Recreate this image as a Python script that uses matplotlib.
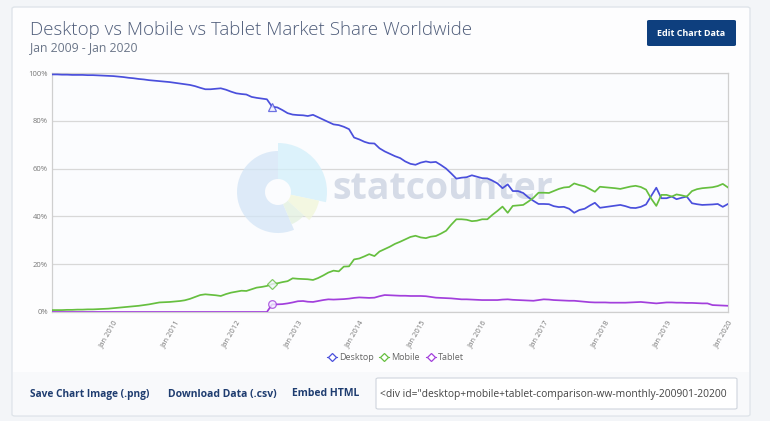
import matplotlib
matplotlib.use("Agg")
import matplotlib.pyplot as plt
import matplotlib.patches as mpatches
import numpy as np
import pandas as pd

plt.rcParams['font.family'] = ['Open Sans', 'DejaVu Sans']

# ---------------- data (monthly, Jan 2009 - Jan 2020) ----------------
months = pd.date_range("2009-01-01", "2020-01-01", freq="MS")

desktop = [
    99.4, 99.4, 99.3, 99.3, 99.2, 99.2, 99.2, 99.1, 99.1, 99.0, 98.9, 98.8,   # 2009
    98.7, 98.5, 98.3, 98.0, 97.8, 97.5, 97.3, 97.0, 96.8, 96.6, 96.4, 96.2,   # 2010
    95.9, 95.6, 95.3, 95.0, 94.5, 93.8, 93.2, 93.2, 93.4, 93.6, 93.0, 92.2,   # 2011
    91.5, 91.2, 91.0, 90.0, 89.6, 89.3, 89.0, 85.9, 85.6, 84.5, 83.2, 82.6,   # 2012
    82.4, 82.3, 82.0, 82.5, 81.5, 80.5, 79.5, 78.5, 78.2, 77.5, 76.5, 73.0,   # 2013
    72.2, 71.2, 70.6, 70.5, 68.5, 67.2, 66.2, 65.2, 64.4, 63.0, 62.0, 61.6,   # 2014
    62.5, 63.0, 62.6, 62.8, 61.5, 60.0, 58.0, 55.8, 56.2, 56.4, 57.2, 56.6,   # 2015
    56.0, 55.9, 55.0, 53.8, 51.8, 53.4, 50.6, 50.6, 49.8, 48.0, 46.5, 45.2,   # 2016
    45.2, 45.1, 44.3, 43.9, 44.0, 43.2, 41.5, 42.7, 43.2, 44.5, 45.7, 43.6,   # 2017
    43.9, 44.2, 44.5, 44.8, 44.3, 43.6, 43.5, 44.0, 45.0, 48.5, 52.0, 47.6,   # 2018
    47.6, 48.3, 47.2, 47.8, 48.3, 45.5, 45.1, 44.8, 44.9, 45.0, 45.2, 44.0,   # 2019
    45.2,                                                                     # Jan 2020
]

mobile = [
    0.8, 0.8, 0.8, 0.9, 0.9, 1.0, 1.0, 1.1, 1.1, 1.2, 1.3, 1.4,
    1.6, 1.8, 2.0, 2.2, 2.4, 2.6, 2.9, 3.2, 3.6, 4.0, 4.1, 4.2,
    4.4, 4.6, 4.9, 5.5, 6.3, 7.1, 7.4, 7.2, 7.0, 6.7, 7.5, 8.1,
    8.5, 8.9, 8.8, 9.5, 10.2, 10.5, 10.9, 11.7, 12.0, 12.5, 12.9, 14.1,
    13.9, 13.8, 13.7, 13.4, 14.2, 15.3, 16.5, 17.3, 17.0, 19.0, 19.1, 22.0,
    22.4, 23.3, 24.2, 23.4, 25.3, 26.3, 27.3, 28.5, 29.4, 30.4, 31.4, 31.9,
    31.2, 30.9, 31.5, 31.8, 32.8, 34.0, 36.5, 38.8, 38.8, 38.6, 38.0, 38.2,
    38.8, 38.8, 40.6, 42.3, 44.1, 41.5, 44.4, 44.6, 44.8, 46.2, 47.8, 49.9,
    49.9, 49.8, 50.6, 51.5, 52.1, 52.3, 53.8, 53.1, 52.6, 51.5, 50.3, 52.4,
    52.2, 52.0, 51.8, 51.5, 52.0, 52.5, 52.8, 52.3, 51.2, 47.5, 44.4, 49.0,
    49.0, 48.3, 49.2, 48.8, 48.3, 50.6, 51.4, 51.8, 52.0, 52.2, 52.7, 53.6,
    52.1,
]

tablet = [0.0] * 43 + [
    3.2, 3.2, 3.3, 3.6, 4.0,                                   # Aug-Dec 2012
    4.5, 4.6, 4.3, 4.2, 4.6, 5.0, 5.3, 5.2, 5.3, 5.4, 5.6, 5.9,
    6.1, 6.0, 5.9, 6.0, 6.6, 7.1, 7.0, 6.9, 6.8, 6.8, 6.7, 6.7,
    6.7, 6.6, 6.3, 6.0, 5.9, 5.8, 5.7, 5.5, 5.3, 5.3, 5.2, 5.1,
    5.0, 5.0, 5.0, 5.0, 5.2, 5.3, 5.1, 5.0, 4.9, 4.8, 4.7, 5.0,
    5.3, 5.2, 5.0, 4.9, 4.8, 4.7, 4.7, 4.5, 4.3, 4.1, 4.0, 4.0,
    4.0, 3.9, 3.9, 3.9, 3.9, 4.0, 4.1, 4.2, 4.0, 3.8, 3.6, 3.8,
    4.0, 4.0, 3.9, 3.9, 3.8, 3.8, 3.7, 3.6, 3.6, 2.9, 2.8, 2.7,
    2.6,
]

series_names = ["Desktop", "Mobile", "Tablet"]
series_colors = ["#4a4fdc", "#66bf3f", "#a23fdc"]
series_markers = ["^", "D", "o"]
marker_month = pd.Timestamp("2012-08-01")

y_ticks = [0, 20, 40, 60, 80, 100]
y_labels = ["0%", "20%", "40%", "60%", "80%", "100%"]
x_tick_dates = pd.date_range("2010-01-01", "2020-01-01", freq="YS")
x_tick_labels = [f"Jan {d.year}" for d in x_tick_dates]

title = "Desktop vs Mobile vs Tablet Market Share Worldwide"
subtitle = "Jan 2009 - Jan 2020"
embed_text = '<div id="desktop+mobile+tablet-comparison-ww-monthly-200901-20200'

# ---------------- figure ----------------
W, H = 770, 421
fig = plt.figure(figsize=(W / 100, H / 100), dpi=100)
fig.patch.set_facecolor("#f3f5f8")

def fx(px):
    return px / W

def fy(py):
    return 1 - py / H

# card
card = mpatches.FancyBboxPatch((fx(12), fy(416)), fx(750) - fx(12), fy(7) - fy(416),
                               boxstyle="round,pad=0,rounding_size=0.004",
                               transform=fig.transFigure, facecolor="#fdfdfe",
                               edgecolor="#dfe4ea", linewidth=1.0, zorder=-2)
fig.patches.append(card)
band = mpatches.Rectangle((fx(13), fy(415)), fx(749) - fx(13), fy(372) - fy(415),
                          transform=fig.transFigure, facecolor="#f8f9fb",
                          edgecolor="none", zorder=-1)
fig.patches.append(band)

fig.text(fx(30), fy(30), title, fontsize=13.5, color="#4f5d7a", weight="light",
         va="center", ha="left")
fig.text(fx(30), fy(48), subtitle, fontsize=8.8, color="#6b7689", va="center", ha="left")

# button
btn = mpatches.FancyBboxPatch((fx(647), fy(46)), fx(736) - fx(647), fy(20) - fy(46),
                              boxstyle="round,pad=0,rounding_size=0.003",
                              transform=fig.transFigure, facecolor="#0e3f7e",
                              edgecolor="none", zorder=1)
fig.patches.append(btn)
fig.text(fx(691.5), fy(33.5), "Edit Chart Data", fontsize=6.5, color="white",
         weight="bold", ha="center", va="center", zorder=2)

# ---------------- main axes ----------------
ax = fig.add_axes([fx(52), fy(312), fx(728) - fx(52), fy(73) - fy(312)])
ax.set_facecolor("#fbfcfe")

# watermark text
ax.text(0.415, 0.515, "statcounter", transform=ax.transAxes, fontsize=27,
        weight="bold", color="#d5dbe7", ha="left", va="center", zorder=1)

for name, vals, col, mk in zip(series_names, [desktop, mobile, tablet],
                               series_colors, series_markers):
    ax.plot(months, vals, color=col, lw=1.25, zorder=3, solid_joinstyle="round")
    idx = list(months).index(marker_month)
    ax.plot([months[idx]], [vals[idx]], marker=mk, markersize=5.5, mfc="#f2f2ff",
            mec=col, mew=0.9, alpha=0.8, zorder=4, linestyle="none")

ax.set_xlim(months[0], months[-1])
ax.set_ylim(0, 100)
ax.set_yticks(y_ticks)
ax.set_yticklabels(y_labels)
ax.set_xticks(x_tick_dates)
ax.set_xticklabels(x_tick_labels, rotation=60, ha="right", va="top",
                   rotation_mode="anchor")
ax.tick_params(axis="both", labelsize=5.5, colors="#777777", length=0, pad=3)
ax.tick_params(axis="x", pad=5)
ax.grid(axis="y", color="#d8d8d8", lw=0.9)
ax.set_axisbelow(True)
for s in ["left", "bottom", "top", "right"]:
    ax.spines[s].set_color("#cfcfcf")
    ax.spines[s].set_linewidth(0.9)

# ---------------- logo watermark ----------------
lax = fig.add_axes([fx(228), fy(242), fx(328) - fx(228), fy(142) - fy(242)])
lax.set_zorder(0.5)
lax.patch.set_visible(False)
lax.set_xlim(-1, 1)
lax.set_ylim(-1, 1)
lax.set_aspect("equal")
lax.axis("off")
logo_wedges = [
    (90, 293, 0.82, "#d3e5f6"),
    (-12, 90, 0.98, "#d2effa"),
    (-42, -12, 0.84, "#f1f6d8"),
    (-67, -42, 0.70, "#e2f0df"),
]
for t1, t2, r, c in logo_wedges:
    lax.add_patch(mpatches.Wedge((0, 0), r, t1, t2, width=r - 0.26, facecolor=c,
                                 edgecolor="none", alpha=0.75))

# ---------------- legend ----------------
leg_x = [332, 384, 431]
for lx, name, col in zip(leg_x, series_names, series_colors):
    fig.add_artist(plt.Line2D([fx(lx - 5), fx(lx + 5)], [fy(357), fy(357)],
                              transform=fig.transFigure, color=col, lw=0.8))
    fig.add_artist(plt.Line2D([fx(lx)], [fy(357)], transform=fig.transFigure,
                              marker="D", markersize=4, mfc="white", mec=col, mew=0.9))
    fig.text(fx(lx + 7), fy(357), name, fontsize=6.5, color="#666666",
             ha="left", va="center")

# ---------------- bottom links ----------------
link_col = "#1f3d70"
fig.text(fx(30), fy(394), "Save Chart Image (.png)", fontsize=7.3, weight="bold",
         color=link_col, ha="left", va="center")
fig.text(fx(168), fy(394), "Download Data (.csv)", fontsize=7.5, weight="bold",
         color=link_col, ha="left", va="center")
fig.text(fx(292), fy(394), "Embed HTML", fontsize=7.5, weight="bold",
         color=link_col, ha="left", va="center")

box = mpatches.FancyBboxPatch((fx(376), fy(409)), fx(737) - fx(376), fy(378) - fy(409),
                              boxstyle="round,pad=0,rounding_size=0.003",
                              transform=fig.transFigure, facecolor="white",
                              edgecolor="#cfd5dd", linewidth=0.8, zorder=1)
fig.patches.append(box)
fig.text(fx(380), fy(394), embed_text, fontsize=7.4, color="#444444",
         ha="left", va="center", zorder=2)

fig.savefig("out.png", dpi=100, facecolor=fig.get_facecolor())
